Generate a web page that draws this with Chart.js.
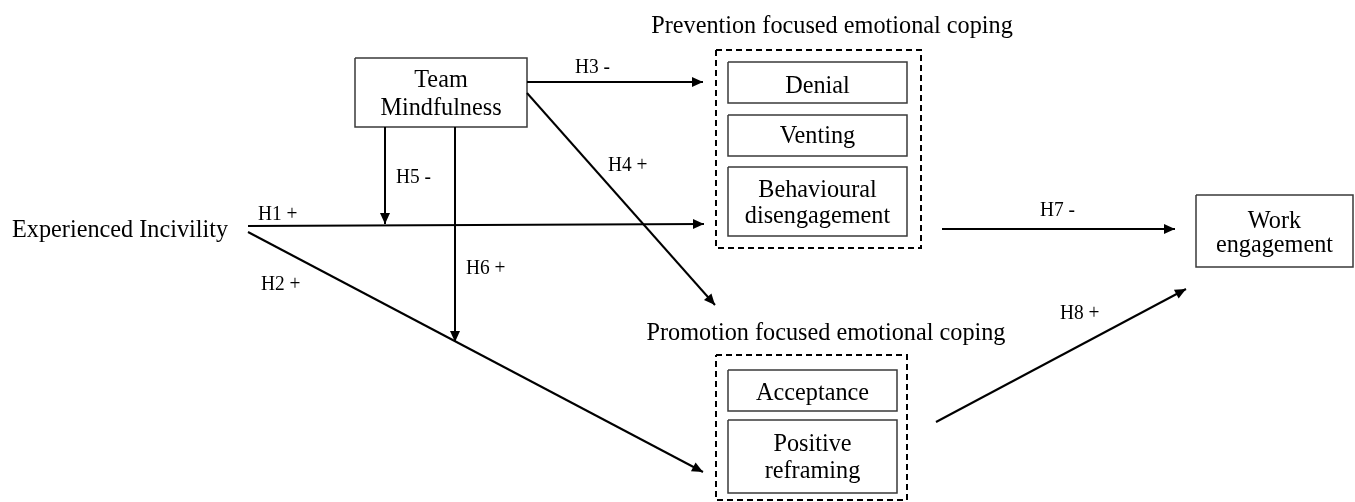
<!DOCTYPE html>
<html>
<head>
<meta charset="utf-8">
<script src="https://cdn.jsdelivr.net/npm/chart.js@4.4.1/dist/chart.umd.min.js"></script>
<style>
  html, body { margin: 0; padding: 0; background: #fff; }
  #wrap { width: 1355px; height: 502px; }
</style>
</head>
<body>
<div id="wrap"><canvas id="diagram" width="1355" height="502"></canvas></div>
<script>
// ---------- Données (unités = repère de la figure, y vers le bas) ----------
const nodeText = [["Team", "Mindfulness"], ["Denial"], ["Venting"], ["Behavioural", "disengagement"],
                  ["Work", "engagement"], ["Acceptance"], ["Positive", "reframing"]];
const nodeLineY = [[87, 115], [93], [143], [197, 223], [228, 252], [400], [451, 478]]; // lignes de base
const nodeX0 = [355, 728, 728, 728, 1196, 728, 728];
const nodeX1 = [527, 907, 907, 907, 1353, 897, 897];
const nodeY0 = [58, 62, 115, 167, 195, 370, 420];
const nodeY1 = [127, 103, 156, 236, 267, 411, 493];

const groupTitles = ["Prevention focused emotional coping", "Promotion focused emotional coping"];
const groupTitleX = [832, 826];
const groupTitleY = [33, 340];
const groupX0 = [716, 716];
const groupX1 = [921, 907];
const groupY0 = [50, 355];
const groupY1 = [248, 500];

const pathLabels = ["H1 +", "H2 +", "H3 -", "H4 +", "H5 -", "H6 +", "H7 -", "H8 +"];
const pathFrom   = [[248, 226], [248, 232], [527, 82], [527, 93], [385, 127], [455, 127], [942, 229], [936, 422]];
const pathTo     = [[704, 224], [703, 472], [703, 82], [715, 305], [385, 224], [455, 342], [1175, 229], [1186, 289]];
const pathLabelX = [258, 261, 575, 608, 396, 466, 1040, 1060];
const pathLabelY = [220, 290, 73, 171, 183, 274, 216, 319];

const sourceText = "Experienced Incivility";
const sourceX = 12, sourceY = 237;

// ---------- Datasets ----------
function rect(x0, y0, x1, y1) {
  return [{x:x0,y:y0},{x:x1,y:y0},{x:x1,y:y1},{x:x0,y:y1},{x:x0,y:y0}];
}
const datasets = [];
pathLabels.forEach((l, i) => {
  datasets.push({ label: l, data: [{x:pathFrom[i][0], y:pathFrom[i][1]}, {x:pathTo[i][0], y:pathTo[i][1]}],
    showLine: true, borderColor: "#000", borderWidth: 2, pointRadius: 0, clip: false });
});
nodeText.forEach((t, i) => {
  datasets.push({ label: t.join(" "), data: rect(nodeX0[i], nodeY0[i], nodeX1[i], nodeY1[i]),
    showLine: true, borderColor: "#3a3a3a", borderWidth: 1.5, pointRadius: 0, clip: false,
    borderJoinStyle: "miter", tension: 0 });
});
groupTitles.forEach((t, i) => {
  datasets.push({ label: t, data: rect(groupX0[i], groupY0[i], groupX1[i], groupY1[i]),
    showLine: true, borderColor: "#000", borderWidth: 2, borderDash: [6, 4], pointRadius: 0, clip: false,
    borderJoinStyle: "miter", tension: 0 });
});

// ---------- Plugin : pointes de flèches + textes ----------
function drawText(ctx, str, x, y, size, align) {
  ctx.save();
  ctx.translate(x, y);
  ctx.scale(0.97, 1); // police un peu condensée comme l'original
  ctx.font = size + "px 'Liberation Serif'";
  ctx.textAlign = align;
  ctx.textBaseline = "alphabetic";
  ctx.fillText(str, 0, 0);
  ctx.restore();
}

const diagramPlugin = {
  id: "diagram",
  afterDatasetsDraw(chart) {
    const { ctx, scales: { x, y } } = chart;
    const px = v => x.getPixelForValue(v), py = v => y.getPixelForValue(v);
    ctx.save();
    ctx.fillStyle = "#000";
    // pointes
    pathFrom.forEach((f, i) => {
      const x1 = px(pathTo[i][0]), y1 = py(pathTo[i][1]);
      const a = Math.atan2(y1 - py(f[1]), x1 - px(f[0]));
      const len = 11, half = 5;
      ctx.beginPath();
      ctx.moveTo(x1, y1);
      ctx.lineTo(x1 - len*Math.cos(a) + half*Math.sin(a), y1 - len*Math.sin(a) - half*Math.cos(a));
      ctx.lineTo(x1 - len*Math.cos(a) - half*Math.sin(a), y1 - len*Math.sin(a) + half*Math.cos(a));
      ctx.closePath();
      ctx.fill();
    });
    // labels H
    pathLabels.forEach((l, i) => drawText(ctx, l, px(pathLabelX[i]), py(pathLabelY[i]), 20, "left"));
    // noeuds
    nodeText.forEach((t, i) => {
      const cx = (nodeX0[i] + nodeX1[i]) / 2;
      t.forEach((line, k) => drawText(ctx, line, px(cx), py(nodeLineY[i][k]), 25, "center"));
    });
    groupTitles.forEach((t, i) => drawText(ctx, t, px(groupTitleX[i]), py(groupTitleY[i]), 25, "center"));
    drawText(ctx, sourceText, px(sourceX), py(sourceY), 25, "left");
    ctx.restore();
  }
};

new Chart(document.getElementById("diagram"), {
  type: "scatter",
  data: { datasets },
  options: {
    responsive: false,
    animation: false,
    layout: { padding: 0 },
    plugins: { legend: { display: false }, tooltip: { enabled: false } },
    scales: {
      x: { type: "linear", min: 0, max: 1355, display: false },
      y: { type: "linear", min: 0, max: 502, reverse: true, display: false }
    }
  },
  plugins: [diagramPlugin]
});
</script>
</body>
</html>
